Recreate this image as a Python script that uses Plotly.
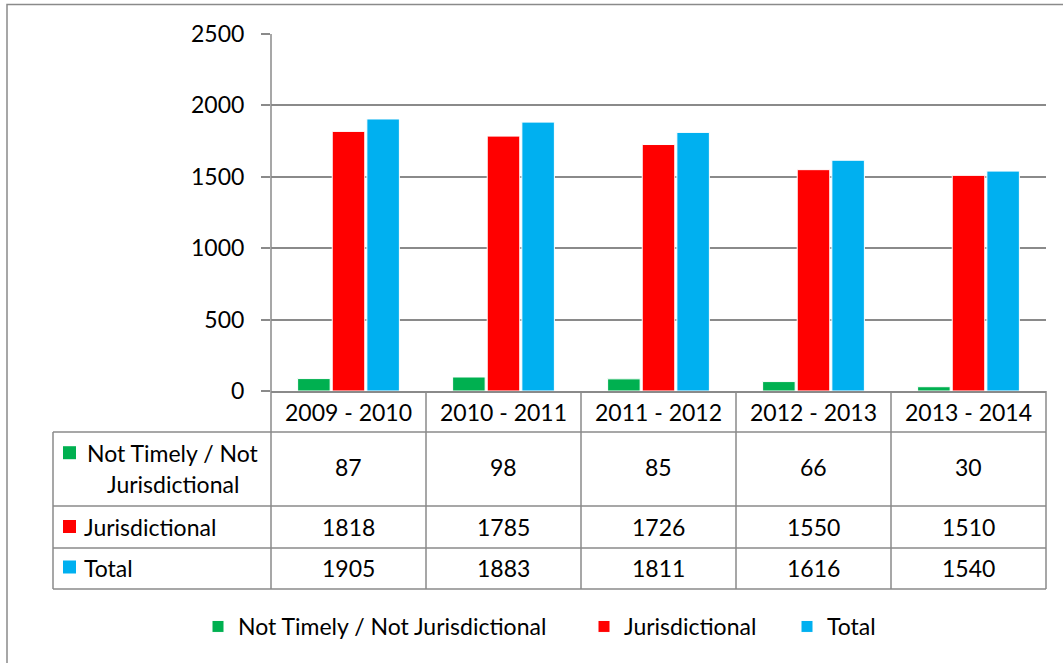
import plotly.graph_objects as go

# ---- data ----
categories = ["2009 - 2010", "2010 - 2011", "2011 - 2012", "2012 - 2013", "2013 - 2014"]
series_names = ["Not Timely / Not Jurisdictional", "Jurisdictional", "Total"]
not_timely = [87, 98, 85, 66, 30]
jurisdictional = [1818, 1785, 1726, 1550, 1510]
total = [1905, 1883, 1811, 1616, 1540]
series_values = [not_timely, jurisdictional, total]
series_colors = ["#00B050", "#FF0000", "#00B0F0"]
y_ticks = [0, 500, 1000, 1500, 2000, 2500]

# ---- layout geometry (pixels) ----
W, H = 1063, 663
PL, PR, PT, PB = 271, 1046, 34, 391
GRID = "#8a8a8a"
FONT = "Lato"
FS = 23


def px_x(p):
    return (p - PL) / (PR - PL)


def px_y(p):
    return (PB - p) / (PB - PT)


legend_ids = ["legend", "legend2", "legend3"]
legend_left_px = [198, 584, 787]

fig = go.Figure()
for name, vals, col, lid in zip(series_names, series_values, series_colors, legend_ids):
    fig.add_trace(go.Bar(
        x=categories, y=vals, name=name, legend=lid,
        marker=dict(color=col, line=dict(color="white", width=1)),
    ))

shapes = []


def hline(y, x0, x1):
    shapes.append(dict(type="line", xref="paper", yref="paper",
                       x0=px_x(x0), x1=px_x(x1), y0=px_y(y), y1=px_y(y),
                       line=dict(color=GRID, width=1.5)))


def vline(x, y0, y1):
    shapes.append(dict(type="line", xref="paper", yref="paper",
                       x0=px_x(x), x1=px_x(x), y0=px_y(y0), y1=px_y(y1),
                       line=dict(color=GRID, width=1.5)))


# table rows (pixel boundaries)
ROW_TOP = [391, 432, 506, 548, 589]
TBL_L = 53
for y in ROW_TOP[1:]:
    hline(y, TBL_L, PR)
vline(TBL_L, ROW_TOP[1], ROW_TOP[-1])
vline(PL, PT, ROW_TOP[-1])
n = len(categories)
for i in range(1, n + 1):
    xb = PL + (PR - PL) * i / n
    vline(xb, PB, ROW_TOP[-1])

# outer chart border
shapes.append(dict(type="rect", xref="paper", yref="paper",
                   x0=px_x(7), x1=px_x(1100), y0=px_y(720), y1=px_y(4.5),
                   line=dict(color=GRID, width=1.5), fillcolor="rgba(0,0,0,0)"))

# legend keys inside table
row_key_y = [452.7, 526.5, 567]
for ky, col in zip(row_key_y, series_colors):
    shapes.append(dict(type="rect", xref="paper", yref="paper",
                       x0=px_x(63), x1=px_x(76), y0=px_y(ky + 6.5), y1=px_y(ky - 6.5),
                       line=dict(width=0), fillcolor=col))

annotations = []
row_centers = [467.5, 527, 568]
for vals, yc in zip(series_values, row_centers):
    for c, v in zip(categories, vals):
        annotations.append(dict(x=c, xref="x", y=px_y(yc), yref="paper",
                                text=str(v), showarrow=False,
                                font=dict(family=FONT, size=FS, color="black"),
                                xanchor="center", yanchor="middle"))

# row labels
row1_lines = ["Not Timely / Not", "Jurisdictional"]
annotations.append(dict(x=px_x(173), xref="paper", y=px_y(452.5), yref="paper",
                        text=row1_lines[0], showarrow=False,
                        font=dict(family=FONT, size=FS, color="black"),
                        xanchor="center", yanchor="middle"))
annotations.append(dict(x=px_x(173), xref="paper", y=px_y(484), yref="paper",
                        text=row1_lines[1], showarrow=False,
                        font=dict(family=FONT, size=FS, color="black"),
                        xanchor="center", yanchor="middle"))
for name, yc in zip(series_names[1:], [527, 567.5]):
    annotations.append(dict(x=px_x(82), xref="paper", y=px_y(yc), yref="paper",
                            text=name, showarrow=False,
                            font=dict(family=FONT, size=FS, color="black"),
                            xanchor="left", yanchor="middle"))

legend_common = dict(orientation="h", xanchor="left", y=px_y(626.5), yanchor="middle",
                     font=dict(family=FONT, size=FS, color="black"),
                     bgcolor="rgba(0,0,0,0)", borderwidth=0)
legends = {lid: dict(x=px_x(lx), **legend_common)
           for lid, lx in zip(legend_ids, legend_left_px)}

fig.update_layout(
    width=W, height=H, autosize=False,
    margin=dict(l=PL, r=W - PR, t=PT, b=H - PB, pad=0),
    paper_bgcolor="white", plot_bgcolor="white",
    font=dict(family=FONT, size=FS, color="black"),
    barmode="group", bargap=0.33, bargroupgap=0.06,
    showlegend=True,
    shapes=shapes,
    annotations=annotations,
    xaxis=dict(range=[-0.5, n - 0.5], showgrid=False, zeroline=False,
               showline=True, linecolor=GRID, linewidth=1.5,
               ticks="", ticklabelstandoff=1,
               tickfont=dict(family=FONT, size=FS, color="black")),
    yaxis=dict(range=[0, 2500], tickvals=y_ticks, showgrid=True,
               gridcolor=GRID, gridwidth=1.5, zeroline=False,
               showline=False, ticks="outside", ticklen=9,
               tickcolor=GRID, tickwidth=1.5, ticklabelstandoff=12,
               tickfont=dict(family=FONT, size=FS, color="black")),
    **legends,
)

fig.write_html("out.html", config={"displayModeBar": False},
               post_script="document.body.style.margin='0';document.body.style.padding='0';")
